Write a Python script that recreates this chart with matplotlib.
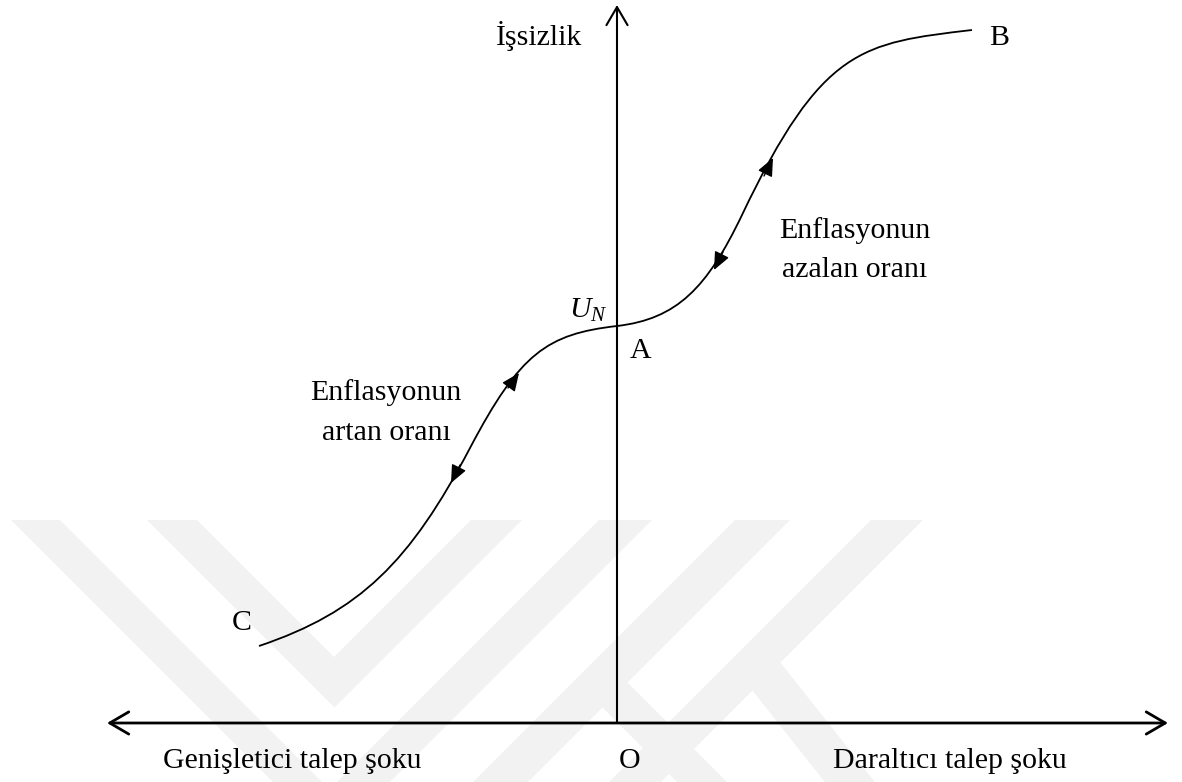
import matplotlib.pyplot as plt
from matplotlib.path import Path
from matplotlib.patches import PathPatch, Polygon

plt.rcParams['font.family'] = ['Liberation Serif', 'DejaVu Serif']
plt.rcParams['mathtext.fontset'] = 'custom'
plt.rcParams['mathtext.rm'] = 'Liberation Serif'
plt.rcParams['mathtext.it'] = 'Liberation Serif:italic'

# S-shaped path C -> A -> B, as cubic Bezier anchors and handles
curve_x = [-358, -257, -207, -147, -97, -70, 0, 60, 90, 125, 205, 245, 355]
curve_y = [77, 111, 161, 275, 370, 389, 397, 404, 435, 508, 676, 680, 693]

# direction arrows on the curve: (tip, tail)
arrow_tips = [(-166, 240), (-98, 350), (97, 453), (156, 565)]
arrow_tails = [(-157, 258), (-109, 335), (106, 471), (147, 547)]

# background logo stripes
logo_shapes = [
    [(-606, 203), (-557, 203), (-287.5, -66.5), (-18, 203), (35, 203), (-285.5, -117.5)],
    [(-470, 203), (-420, 203), (-283, 66), (-146, 203), (-95, 203), (-282.5, 15.5)],
    [(118, 203), (173, 203), (-207, -177), (-262, -177)],
    [(254, 203), (306, 203), (-74, -177), (-126, -177)],
    [(113, 61), (163, 61), (351, -177), (301, -177)],
    [(-41, 42), (9, 42), (228, -177), (178, -177)],
]

fig = plt.figure(figsize=(11.82, 7.82), dpi=100)
ax = fig.add_axes([0, 0, 1, 1])
ax.set_xlim(-617, 565)
ax.set_ylim(-59, 723)
ax.axis('off')

for pts in logo_shapes:
    ax.add_patch(Polygon(pts, closed=True, facecolor='#f2f2f2', edgecolor='none', zorder=0))

# axes
ax.annotate('', xy=(0, 718), xytext=(0, 0),
            arrowprops=dict(arrowstyle='->,head_length=1.3,head_width=0.76', mutation_scale=10,
                            lw=1.5, color='black', shrinkA=0, shrinkB=0), zorder=3)
ax.annotate('', xy=(551, 0), xytext=(-510, 0),
            arrowprops=dict(arrowstyle='<->,head_length=1.37,head_width=0.8', mutation_scale=10,
                            lw=2.0, color='black', shrinkA=0, shrinkB=0), zorder=3)

codes = [Path.MOVETO] + [Path.CURVE4] * (len(curve_x) - 1)
path = Path(list(zip(curve_x, curve_y)), codes)
ax.add_patch(PathPatch(path, facecolor='none', edgecolor='black', lw=1.3, zorder=4))

for tip, tail in zip(arrow_tips, arrow_tails):
    ax.annotate('', xy=tip, xytext=tail,
                arrowprops=dict(arrowstyle='-|>,head_length=1.1,head_width=0.48', mutation_scale=10,
                                lw=1.0, color='black', shrinkA=0, shrinkB=0), zorder=5)

fs = 21.5
ax.text(-35, 678, 'İşsizlik', fontsize=fs, ha='right', va='baseline')
ax.text(372, 678, 'B', fontsize=fs, ha='left', va='baseline')
ax.text(238, 485, 'Enflasyonun', fontsize=fs, ha='center', va='baseline')
ax.text(238, 446, 'azalan oranı', fontsize=fs, ha='center', va='baseline')
ax.text(-10, 405, '$U_N$', fontsize=fs, ha='right', va='baseline')
ax.text(13, 365, 'A', fontsize=fs, ha='left', va='baseline')
ax.text(-231, 323, 'Enflasyonun', fontsize=fs, ha='center', va='baseline')
ax.text(-231, 283, 'artan oranı', fontsize=fs, ha='center', va='baseline')
ax.text(-385, 93, 'C', fontsize=fs, ha='left', va='baseline')
ax.text(-454, -45, 'Genişletici talep şoku', fontsize=fs, ha='left', va='baseline')
ax.text(2, -45, 'O', fontsize=fs, ha='left', va='baseline')
ax.text(216, -45, 'Daraltıcı talep şoku', fontsize=fs, ha='left', va='baseline')

fig.savefig('out.png', dpi=100, facecolor='white')
